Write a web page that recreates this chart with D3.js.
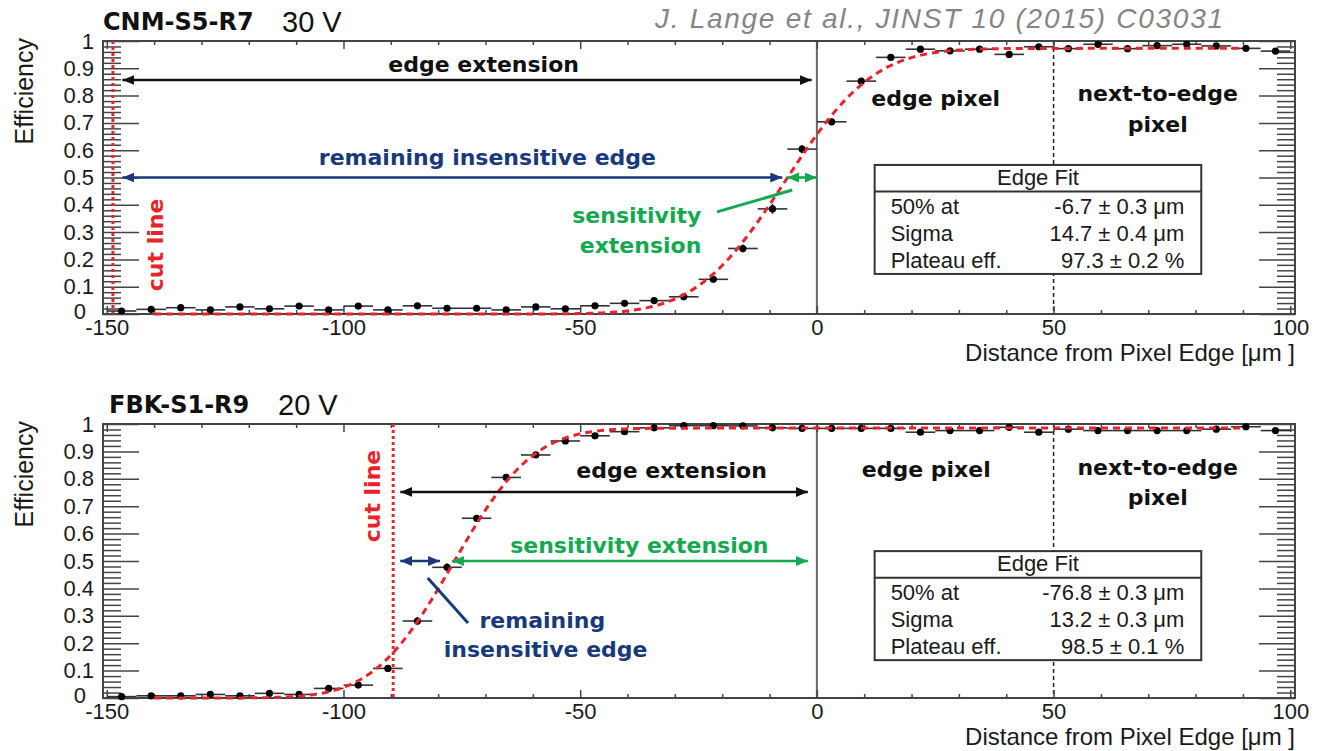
<!DOCTYPE html>
<html>
<head>
<meta charset="utf-8">
<script src="https://cdn.jsdelivr.net/npm/d3@7"></script>
<style>
  body { margin: 0; background: #fff; }
  svg { display: block; }
</style>
</head>
<body>
<svg id="chart" width="1318" height="751"></svg>
<script>
// ---- data -------------------------------------------------------------
// 40 bins of 6.25 µm across the edge region
const binCenters = [-146.875, -140.625, -134.375, -128.125, -121.875, -115.625, -109.375, -103.125,
  -96.875, -90.625, -84.375, -78.125, -71.875, -65.625, -59.375, -53.125, -46.875, -40.625,
  -34.375, -28.125, -21.875, -15.625, -9.375, -3.125, 3.125, 9.375, 15.625, 21.875, 28.125,
  34.375, 40.625, 46.875, 53.125, 59.375, 65.625, 71.875, 78.125, 84.375, 90.625, 96.875];
const binHalfWidth = 3.125;

const cnmEff = [0.011, 0.017, 0.023, 0.015, 0.026, 0.019, 0.029, 0.015, 0.029, 0.015,
  0.030, 0.021, 0.021, 0.015, 0.026, 0.019, 0.030, 0.039, 0.049, 0.063,
  0.127, 0.240, 0.385, 0.604, 0.704, 0.853, 0.940, 0.970, 0.964, 0.970,
  0.951, 0.979, 0.972, 0.988, 0.972, 0.983, 0.988, 0.982, 0.973, 0.963];
const cnmErr = [0.004, 0.004, 0.004, 0.004, 0.004, 0.004, 0.004, 0.004, 0.004, 0.004,
  0.004, 0.004, 0.004, 0.004, 0.004, 0.004, 0.005, 0.006, 0.007, 0.008,
  0.012, 0.015, 0.018, 0.015, 0.012, 0.008, 0.005, 0.004, 0.004, 0.004,
  0.004, 0.004, 0.004, 0.004, 0.004, 0.004, 0.004, 0.004, 0.004, 0.004];

const fbkEff = [0.005, 0.008, 0.008, 0.013, 0.008, 0.017, 0.013, 0.035, 0.047, 0.108,
  0.281, 0.477, 0.656, 0.805, 0.887, 0.938, 0.957, 0.972, 0.986, 0.994,
  0.994, 0.993, 0.986, 0.984, 0.984, 0.984, 0.984, 0.970, 0.976, 0.976,
  0.988, 0.970, 0.981, 0.976, 0.976, 0.976, 0.976, 0.981, 0.990, 0.976];
const fbkErr = [0.004, 0.004, 0.004, 0.004, 0.004, 0.004, 0.004, 0.005, 0.006, 0.010,
  0.015, 0.015, 0.012, 0.010, 0.007, 0.005, 0.004, 0.004, 0.004, 0.004,
  0.004, 0.004, 0.004, 0.004, 0.004, 0.004, 0.004, 0.004, 0.004, 0.004,
  0.004, 0.004, 0.004, 0.004, 0.004, 0.004, 0.004, 0.004, 0.004, 0.004];

// edge fit results (error-function fit): 50% point, sigma, plateau
const cnmFit = [-6.7, 14.7, 0.973];
const fbkFit = [-76.8, 13.2, 0.985];
const fitRange = [-140, 90];

const cnmFitText = [["50% at", "-6.7 \u00b1 0.3 \u03bcm"], ["Sigma", "14.7 \u00b1 0.4 \u03bcm"], ["Plateau eff.", "97.3 \u00b1 0.2 %"]];
const fbkFitText = [["50% at", "-76.8 \u00b1 0.3 \u03bcm"], ["Sigma", "13.2 \u00b1 0.3 \u03bcm"], ["Plateau eff.", "98.5 \u00b1 0.1 %"]];

// axis ticks
const xMajor = [-150, -100, -50, 0, 50, 100];
const yMajor = [0, 0.1, 0.2, 0.3, 0.4, 0.5, 0.6, 0.7, 0.8, 0.9, 1];
const xLabel = "Distance from Pixel Edge [\u03bcm ]";
const yLabel = "Efficiency";

// ---- styling ----------------------------------------------------------
const RED = "#e5242b", NAVY = "#18397a", GREEN = "#14a850", FRAME = "#444";
const SANS = "'Liberation Sans', Arial, sans-serif";
const BOLD = "'DejaVu Sans', Verdana, sans-serif";

const svg = d3.select("#chart");
svg.append("rect").attr("width", 1318).attr("height", 751).attr("fill", "#fff");

// arrow heads
const defs = svg.append("defs");
[["black", "#111"], ["navy", NAVY], ["green", GREEN]].forEach(([id, c]) => {
  defs.append("marker")
    .attr("id", "head-" + id)
    .attr("markerUnits", "userSpaceOnUse")
    .attr("markerWidth", 14).attr("markerHeight", 12)
    .attr("refX", 12).attr("refY", 5)
    .attr("orient", "auto-start-reverse")
    .append("path").attr("d", "M0,0 L12,5 L0,10 Z").attr("fill", c);
});

function erf(v) {
  const t = 1 / (1 + 0.3275911 * Math.abs(v));
  const y = 1 - (((((1.061405429 * t - 1.453152027) * t) + 1.421413741) * t - 0.284496736) * t + 0.254829592) * t * Math.exp(-v * v);
  return v >= 0 ? y : -y;
}

function drawPanel(p) {
  const x = d3.scaleLinear().domain([-150.8, 101]).range([103, 1295]);
  const y = d3.scaleLinear().domain([0, 1]).range([p.bottom, p.top]);
  const g = svg.append("g");
  const [x0, x1] = x.range();

  // titles
  g.append("text").attr("x", p.titleX).attr("y", p.top - 11)
    .attr("font-family", BOLD).attr("font-weight", "bold").attr("font-size", 24)
    .attr("fill", "#111").text(p.name);
  g.append("text").attr("x", p.voltX).attr("y", p.top - 9)
    .attr("font-family", SANS).attr("font-size", 29).attr("fill", "#111").text(p.voltage);

  // reference lines: pixel edge and pixel boundary
  g.append("line").attr("x1", x(0)).attr("x2", x(0)).attr("y1", y(1)).attr("y2", y(0))
    .attr("stroke", "#666").attr("stroke-width", 2);
  g.append("line").attr("x1", x(50)).attr("x2", x(50)).attr("y1", y(1)).attr("y2", y(0))
    .attr("stroke", "#222").attr("stroke-width", 1.5).attr("stroke-dasharray", "4,3");

  // axes (ROOT style, ticks inside the frame)
  const axisFont = sel => sel.selectAll("text").attr("font-family", SANS).attr("font-size", 22).attr("fill", "#1a1a1a");
  const xMinor = d3.range(-150, 101, 10).filter(v => v % 50 !== 0);
  const yMinor = d3.range(0, 1.001, 0.02).filter(v => Math.abs(v * 10 - Math.round(v * 10)) > 1e-6);

  g.append("g").attr("transform", `translate(0,${p.bottom})`)
    .call(d3.axisBottom(x).tickValues(xMajor).tickSize(-8).tickSizeOuter(0).tickPadding(5).tickFormat(d => String(d)))
    .call(a => a.select(".domain").remove()).call(axisFont);
  g.append("g").attr("transform", `translate(0,${p.bottom})`)
    .call(d3.axisBottom(x).tickValues(xMinor).tickSize(-4).tickSizeOuter(0).tickFormat(""))
    .call(a => a.select(".domain").remove());
  g.append("g").attr("transform", `translate(0,${p.top})`)
    .call(d3.axisTop(x).tickValues(xMajor).tickSize(-8).tickSizeOuter(0).tickFormat(""))
    .call(a => a.select(".domain").remove());
  g.append("g").attr("transform", `translate(0,${p.top})`)
    .call(d3.axisTop(x).tickValues(xMinor).tickSize(-4).tickSizeOuter(0).tickFormat(""))
    .call(a => a.select(".domain").remove());

  g.append("g").attr("transform", `translate(${x0},0)`)
    .call(d3.axisLeft(y).tickValues(yMajor).tickSize(-36).tickSizeOuter(0).tickPadding(9)
      .tickFormat(d => String(+d.toFixed(1))))
    .call(a => a.select(".domain").remove()).call(axisFont)
    // nudge the zero label so it clears the first x-axis number
    .call(a => a.selectAll(".tick text").filter(d => d === 0).attr("x", -17).attr("y", -3));
  g.append("g").attr("transform", `translate(${x0},0)`)
    .call(d3.axisLeft(y).tickValues(yMinor).tickSize(-18).tickSizeOuter(0).tickFormat(""))
    .call(a => a.select(".domain").remove());
  g.append("g").attr("transform", `translate(${x1},0)`)
    .call(d3.axisRight(y).tickValues(yMajor).tickSize(-36).tickSizeOuter(0).tickFormat(""))
    .call(a => a.select(".domain").remove());
  g.append("g").attr("transform", `translate(${x1},0)`)
    .call(d3.axisRight(y).tickValues(yMinor).tickSize(-18).tickSizeOuter(0).tickFormat(""))
    .call(a => a.select(".domain").remove());
  g.selectAll(".tick line").attr("stroke", FRAME).attr("stroke-width", 1.5);

  g.append("rect").attr("x", x0).attr("y", p.top).attr("width", x1 - x0).attr("height", p.bottom - p.top)
    .attr("fill", "none").attr("stroke", FRAME).attr("stroke-width", 2);

  g.append("text").attr("x", x1).attr("y", p.bottom + 47).attr("text-anchor", "end")
    .attr("font-family", SANS).attr("font-size", 24).attr("fill", "#1a1a1a").text(xLabel);
  g.append("text").attr("transform", `translate(33,${p.top - 3}) rotate(-90)`).attr("text-anchor", "end")
    .attr("font-family", SANS).attr("font-size", 25).attr("fill", "#1a1a1a").text(yLabel);

  // cut line
  g.append("line").attr("x1", x(p.cut)).attr("x2", x(p.cut)).attr("y1", y(1)).attr("y2", y(0))
    .attr("stroke", RED).attr("stroke-width", 3).attr("stroke-dasharray", "3,3");
  g.append("text").attr("transform", `translate(${x(p.cutText[0])},${y(p.cutText[1])}) rotate(-90)`)
    .attr("text-anchor", "middle").attr("font-family", BOLD).attr("font-weight", "bold")
    .attr("font-size", 22).attr("fill", RED).text("cut line");

  // data points with bin-width and statistical error bars
  const pts = binCenters.map((c, i) => ({ c, v: p.eff[i], e: p.err[i] }));
  const dg = g.append("g");
  dg.selectAll("line.h").data(pts).join("line").attr("class", "h")
    .attr("x1", d => x(d.c - binHalfWidth)).attr("x2", d => x(d.c + binHalfWidth))
    .attr("y1", d => y(d.v)).attr("y2", d => y(d.v))
    .attr("stroke", "#333").attr("stroke-width", 1.6);
  dg.selectAll("line.v").data(pts).join("line").attr("class", "v")
    .attr("x1", d => x(d.c)).attr("x2", d => x(d.c))
    .attr("y1", d => y(Math.max(0, d.v - d.e))).attr("y2", d => y(Math.min(1, d.v + d.e)))
    .attr("stroke", "#333").attr("stroke-width", 1.6);
  dg.selectAll("circle").data(pts).join("circle")
    .attr("cx", d => x(d.c)).attr("cy", d => y(d.v)).attr("r", 3.6).attr("fill", "#000");

  // fitted error function
  const [mu, sigma, plateau] = p.fit;
  const fx = d3.range(fitRange[0], fitRange[1] + 0.01, 0.5);
  const line = d3.line().x(d => x(d)).y(d => y(plateau / 2 * (1 + erf((d - mu) / (Math.SQRT2 * sigma)))));
  g.append("path").attr("d", line(fx)).attr("fill", "none")
    .attr("stroke", RED).attr("stroke-width", 3).attr("stroke-dasharray", "7,5");

  // annotation arrows
  p.arrows.forEach(a => {
    g.append("line").attr("x1", x(a.from)).attr("x2", x(a.to)).attr("y1", y(a.at)).attr("y2", y(a.at))
      .attr("stroke", a.color).attr("stroke-width", 2.6)
      .attr("marker-start", `url(#head-${a.head})`).attr("marker-end", `url(#head-${a.head})`);
  });
  p.leaders.forEach(l => {
    g.append("line").attr("x1", x(l[0])).attr("y1", y(l[1])).attr("x2", x(l[2])).attr("y2", y(l[3]))
      .attr("stroke", l[4]).attr("stroke-width", 3);
  });
  p.labels.forEach(t => {
    g.append("text").attr("x", x(t.x)).attr("y", y(t.y)).attr("text-anchor", t.anchor || "middle")
      .attr("font-family", BOLD).attr("font-weight", "bold").attr("font-size", 22)
      .attr("fill", t.color).text(t.text);
  });

  // fit result box
  const bx0 = x(12.2), bx1 = x(81.2), by = y(p.boxTop);
  const box = g.append("g");
  box.append("rect").attr("x", bx0).attr("y", by).attr("width", bx1 - bx0).attr("height", 109)
    .attr("fill", "#fff").attr("stroke", "#333").attr("stroke-width", 2);
  box.append("line").attr("x1", bx0).attr("x2", bx1).attr("y1", by + 26.5).attr("y2", by + 26.5)
    .attr("stroke", "#333").attr("stroke-width", 2);
  box.append("text").attr("x", (bx0 + bx1) / 2).attr("y", by + 20).attr("text-anchor", "middle")
    .attr("font-family", SANS).attr("font-size", 22).attr("fill", "#1a1a1a").text("Edge Fit");
  p.fitText.forEach((r, i) => {
    const ry = by + 49 + i * 27;
    box.append("text").attr("x", bx0 + 16).attr("y", ry)
      .attr("font-family", SANS).attr("font-size", 22).attr("fill", "#1a1a1a").text(r[0]);
    box.append("text").attr("x", bx1 - 17).attr("y", ry).attr("text-anchor", "end")
      .attr("font-family", SANS).attr("font-size", 22).attr("fill", "#1a1a1a").text(r[1]);
  });
}

// citation
svg.append("text").attr("x", 655).attr("y", 28)
  .attr("font-family", SANS).attr("font-style", "italic").attr("font-size", 28)
  .attr("textLength", 568).attr("lengthAdjust", "spacing")
  .attr("fill", "#858585").text("J. Lange et al., JINST 10 (2015) C03031");

drawPanel({
  name: "CNM-S5-R7", voltage: "30 V", titleX: 103, voltX: 282,
  top: 41, bottom: 314, eff: cnmEff, err: cnmErr, fit: cnmFit, fitText: cnmFitText,
  cut: -148.7, cutText: [-138.1, 0.253], boxTop: 0.546,
  arrows: [
    { from: -146.7, to: -1.1, at: 0.857, color: "#111", head: "black" },
    { from: -146.7, to: -7.3, at: 0.5, color: NAVY, head: "navy" },
    { from: -6.3, to: 0, at: 0.5, color: GREEN, head: "green" }
  ],
  leaders: [[-21.1, 0.374, -5.2, 0.454, GREEN]],
  labels: [
    { text: "edge extension", x: -70.4, y: 0.886, color: "#111" },
    { text: "remaining insensitive edge", x: -69.6, y: 0.546, color: NAVY },
    { text: "sensitivity", x: -24.4, y: 0.333, color: GREEN, anchor: "end" },
    { text: "extension", x: -24.4, y: 0.223, color: GREEN, anchor: "end" },
    { text: "edge pixel", x: 25.1, y: 0.762, color: "#111" },
    { text: "next-to-edge", x: 72, y: 0.78, color: "#111" },
    { text: "pixel", x: 72, y: 0.667, color: "#111" }
  ]
});

drawPanel({
  name: "FBK-S1-R9", voltage: "20 V", titleX: 109, voltX: 278,
  top: 424, bottom: 698, eff: fbkEff, err: fbkErr, fit: fbkFit, fitText: fbkFitText,
  cut: -89.5, cutText: [-92.3, 0.737], boxTop: 0.536,
  arrows: [
    { from: -88, to: -1.9, at: 0.752, color: "#111", head: "black" },
    { from: -88, to: -79.6, at: 0.5, color: NAVY, head: "navy" },
    { from: -77.1, to: -1.9, at: 0.5, color: GREEN, head: "green" }
  ],
  leaders: [[-82.2, 0.438, -73.7, 0.274, NAVY]],
  labels: [
    { text: "edge extension", x: -30.7, y: 0.803, color: "#111" },
    { text: "sensitivity extension", x: -37.5, y: 0.529, color: GREEN },
    { text: "remaining", x: -58, y: 0.255, color: NAVY },
    { text: "insensitive edge", x: -57.3, y: 0.150, color: NAVY },
    { text: "edge pixel", x: 23.1, y: 0.807, color: "#111" },
    { text: "next-to-edge", x: 72, y: 0.814, color: "#111" },
    { text: "pixel", x: 72, y: 0.704, color: "#111" }
  ]
});
</script>
</body>
</html>
